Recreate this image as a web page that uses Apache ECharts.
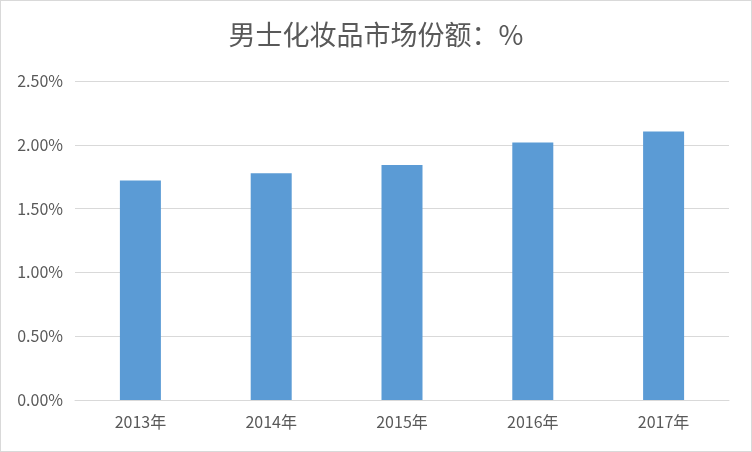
<!DOCTYPE html>
<html>
<head>
    <meta charset="utf-8">
    <title>男士化妆品市场份额</title>
    <script src="https://cdn.jsdelivr.net/npm/echarts@6/dist/echarts.min.js"></script>
    <style>
        html,body{
            height: 100%;
            margin: 0;
            padding: 0;
            background: #fff;
        }
        #main{
            box-sizing: border-box;
            border: 1px solid #d9d9d9;
        }
    </style>
</head>
<body>
    <div id="main" style="width: 752px;height:452px;"></div>
    <script type="text/javascript">
    // 数据
    var years = ['2013年', '2014年', '2015年', '2016年', '2017年'];
    var shareValues = [0.01721, 0.01778, 0.01841, 0.02018, 0.02104];
    var yTicks = [0, 0.005, 0.01, 0.015, 0.02, 0.025];

    var myChart = echarts.init(document.getElementById('main'));

    var option = {
        animation: false,
        textStyle: { fontFamily: '"Noto Sans CJK SC", "Liberation Sans", sans-serif' },
        title: {
            text: '男士化妆品市场份额：%',
            left: 'center',
            top: 15,
            textStyle: {
                color: '#595959',
                fontSize: 27,
                fontWeight: 'normal',
                fontFamily: '"Noto Sans CJK SC", sans-serif'
            }
        },
        grid: {
            left: 74,
            right: 22,
            top: 80,
            bottom: 51,
            containLabel: false
        },
        xAxis: {
            type: 'category',
            data: years,
            axisLine: { lineStyle: { color: '#d9d9d9', width: 1 } },
            axisTick: { show: false },
            axisLabel: {
                color: '#595959',
                fontSize: 16,
                margin: 14
            }
        },
        yAxis: {
            type: 'value',
            min: yTicks[0],
            max: yTicks[yTicks.length - 1],
            interval: 0.005,
            axisLine: { show: false },
            axisTick: { show: false },
            splitLine: { lineStyle: { color: '#d9d9d9', width: 1 } },
            axisLabel: {
                color: '#595959',
                fontSize: 16,
                margin: 12,
                formatter: function (val) {
                    return (val * 100).toFixed(2) + '%';
                }
            }
        },
        series: [{
            type: 'bar',
            data: shareValues,
            barWidth: 41,
            itemStyle: { color: '#5b9bd5' }
        }]
    };

    myChart.setOption(option);
    </script>
</body>
</html>
